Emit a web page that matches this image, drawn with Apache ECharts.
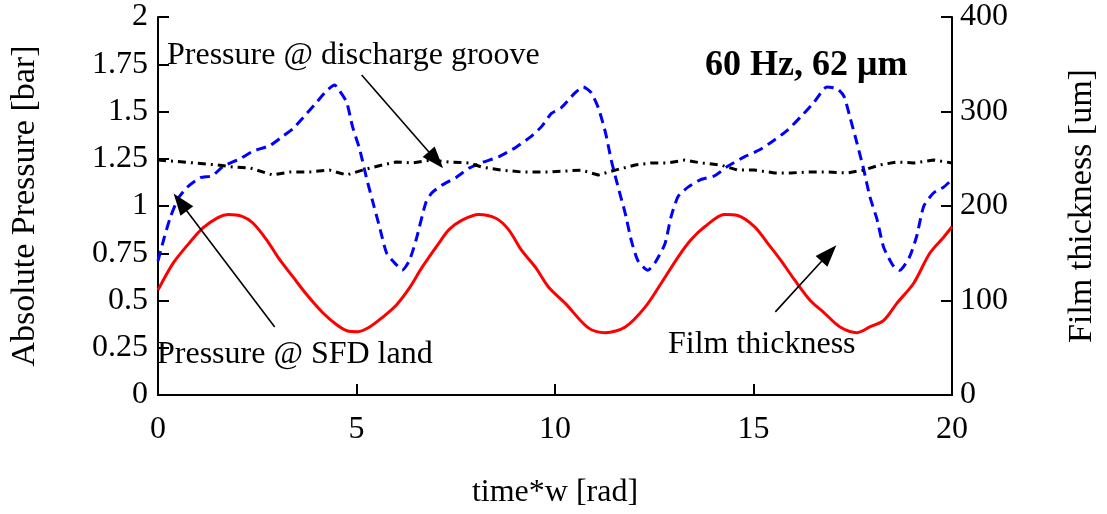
<!DOCTYPE html>
<html>
<head>
<meta charset="utf-8">
<script src="https://cdn.jsdelivr.net/npm/echarts@6/dist/echarts.min.js"></script>
<style>
html,body{margin:0;padding:0;background:#fff;}
#c{width:1107px;height:514px;}
</style>
</head>
<body>
<div id="c"></div>
<script>
// Film thickness [um] (right axis), time*w [rad]
var filmX = [0,0.39,0.81,1.14,1.52,1.77,2.12,2.39,2.74,3.02,3.40,3.75,4.15,4.51,4.76,5.03,5.33,5.65,6.00,6.33,6.65,7.08,7.33,7.66,8.08,8.51,8.83,9.16,9.51,9.84,10.26,10.84,11.27,11.77,12.27,12.67,13.10,13.42,13.77,14.27,14.60,15.03,15.35,15.68,16.03,16.43,16.78,17.18,17.61,17.93,18.28,18.61,19.03,19.44,19.79,20];
var filmUm = [111,140,162,177,188,191,189,182,164,146,125,106,87,74,68,67,72,82,95,113,135,161,175,185,191,187,175,153,135,114,97,71,66,72,93,118,146,164,178,191,190,178,161,143,122,100,87,72,66,72,79,97,118,150,167,178];

// Pressure @ SFD land [bar] (left axis)
var sfdX = [0,0.14,0.31,0.51,0.74,1.07,1.37,1.64,2.07,2.39,2.82,3.15,3.40,3.75,4.00,4.25,4.45,4.57,4.75,4.90,5.08,5.25,5.40,5.58,5.76,6.00,6.15,6.33,6.50,6.75,6.90,7.15,7.50,7.83,8.16,8.58,9.01,9.41,9.66,9.91,10.16,10.51,10.71,10.91,11.09,11.27,11.42,11.59,11.77,11.92,12.09,12.34,12.52,12.77,12.92,13.10,13.35,13.67,14.02,14.35,14.77,15.18,15.53,15.85,16.18,16.53,16.85,17.11,17.28,17.43,17.61,17.78,17.93,18.11,18.28,18.53,18.68,18.93,19.11,19.29,19.54,19.79,20];
var sfdBar = [0.71,0.82,0.94,1.04,1.10,1.15,1.16,1.21,1.25,1.29,1.32,1.37,1.41,1.49,1.55,1.61,1.64,1.61,1.55,1.42,1.30,1.15,1.03,0.89,0.75,0.69,0.66,0.71,0.82,1.02,1.07,1.11,1.15,1.20,1.23,1.26,1.31,1.37,1.42,1.49,1.52,1.60,1.63,1.60,1.52,1.39,1.24,1.10,0.96,0.82,0.71,0.66,0.70,0.80,0.94,1.05,1.10,1.14,1.16,1.21,1.26,1.30,1.35,1.40,1.47,1.55,1.63,1.62,1.58,1.47,1.33,1.19,1.05,0.93,0.78,0.68,0.66,0.73,0.84,1.00,1.07,1.10,1.14];

// Pressure @ discharge groove [bar] (left axis)
var grooveX = [0,0.64,1.49,1.89,2.32,2.89,3.32,3.82,4.32,4.75,5.15,5.65,6.00,6.40,6.90,7.33,7.83,8.16,8.66,9.16,9.84,10.66,11.09,11.52,12.02,12.42,12.84,13.27,13.67,14.17,14.60,15.03,15.53,15.93,16.43,16.85,17.36,17.78,18.18,18.61,19.03,19.54,20];
var grooveBar = [1.243,1.233,1.217,1.206,1.201,1.164,1.180,1.180,1.190,1.164,1.190,1.217,1.233,1.228,1.243,1.233,1.228,1.206,1.190,1.180,1.180,1.190,1.164,1.190,1.217,1.228,1.228,1.243,1.228,1.217,1.190,1.190,1.175,1.175,1.180,1.180,1.175,1.190,1.217,1.233,1.228,1.243,1.228];

// Annotation arrows in data units [x, bar]: [tail, tip]
var arrowGroove = [[5.13,1.693],[7.0,1.243]];
var arrowSfd = [[2.94,0.36],[0.56,1.02]];
var arrowFilm = [[15.55,0.44],[16.9,0.75]];

function pairs(xs, ys){ return xs.map(function(x,i){ return [x, ys[i]]; }); }

var FONT = "'Liberation Serif','Times New Roman',serif";
var chart = echarts.init(document.getElementById('c'), null, {renderer:'canvas'});

function arrowLine(a){ return [{coord:a[0]},{coord:a[1]}]; }

chart.setOption({
  animation:false,
  backgroundColor:'#fff',
  grid:{left:157,right:151,top:17,bottom:119,containLabel:false},
  xAxis:{
    type:'value',min:0,max:20,interval:5,
    axisLine:{show:true,onZero:false,lineStyle:{color:'#000',width:2}},
    axisTick:{show:true,inside:true,length:11,lineStyle:{color:'#000',width:2}},
    splitLine:{show:false},
    axisLabel:{color:'#000',fontSize:32,fontFamily:FONT,margin:19},
    name:'time*w [rad]',nameLocation:'middle',nameGap:82,
    nameTextStyle:{color:'#000',fontSize:32,fontFamily:FONT}
  },
  yAxis:[{
    type:'value',min:0,max:2,interval:0.25,position:'left',
    axisLine:{show:true,onZero:false,lineStyle:{color:'#000',width:2}},
    axisTick:{show:true,inside:true,length:11,lineStyle:{color:'#000',width:2}},
    splitLine:{show:false},
    axisLabel:{color:'#000',fontSize:32,fontFamily:FONT,margin:10,padding:[10,0,0,0]},
    name:'Absolute Pressure [bar]',nameLocation:'middle',nameGap:116,nameRotate:90,
    nameTextStyle:{color:'#000',fontSize:34,fontFamily:FONT}
  },{
    type:'value',min:0,max:400,interval:100,position:'right',
    axisLine:{show:true,onZero:false,lineStyle:{color:'#000',width:2}},
    axisTick:{show:true,inside:true,length:11,lineStyle:{color:'#000',width:2}},
    splitLine:{show:false},
    axisLabel:{color:'#000',fontSize:32,fontFamily:FONT,margin:8,padding:[10,0,0,0]},
    name:'Film thickness [um]',nameLocation:'middle',nameGap:113,nameRotate:90,
    nameTextStyle:{color:'#000',fontSize:34,fontFamily:FONT}
  }],
  series:[{
    name:'Film thickness',type:'line',yAxisIndex:1,showSymbol:false,smooth:0.3,
    data:pairs(filmX,filmUm),
    lineStyle:{color:'#ff0000',width:3}
  },{
    name:'Pressure @ SFD land',type:'line',yAxisIndex:0,showSymbol:false,smooth:0.2,
    data:pairs(sfdX,sfdBar),
    lineStyle:{color:'#0000ff',width:3,type:[10,6]}
  },{
    name:'Pressure @ discharge groove',type:'line',yAxisIndex:0,showSymbol:false,
    data:pairs(grooveX,grooveBar),
    lineStyle:{color:'#000',width:3,type:[8,5,2,5]},
    markLine:{
      silent:true,symbol:['none','triangle'],symbolSize:[16,22],
      label:{show:false},
      lineStyle:{color:'#000',width:1.6,type:'solid'},
      data:[arrowLine(arrowGroove),arrowLine(arrowSfd),arrowLine(arrowFilm)]
    }
  }],
  graphic:[
    {type:'text',x:167,y:56,style:{text:'Pressure @ discharge groove',fontSize:32,fontFamily:FONT,fill:'#000',align:'left',verticalAlign:'middle'}},
    {type:'text',x:157,y:355,style:{text:'Pressure @ SFD land',fontSize:32,fontFamily:FONT,fill:'#000',align:'left',verticalAlign:'middle'}},
    {type:'text',x:668,y:345,style:{text:'Film thickness',fontSize:32,fontFamily:FONT,fill:'#000',align:'left',verticalAlign:'middle'}},
    {type:'text',x:705,y:66,style:{text:'60 Hz, 62 \u03bcm',fontSize:36,fontWeight:'bold',fontFamily:FONT,fill:'#000',align:'left',verticalAlign:'middle'}}
  ]
});
</script>
</body>
</html>
